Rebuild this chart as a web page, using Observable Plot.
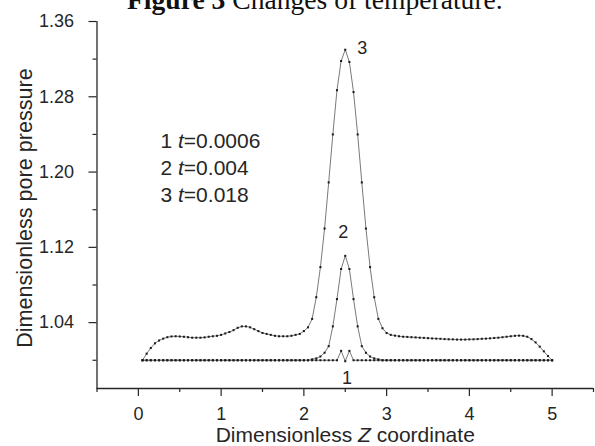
<!DOCTYPE html>
<html>
<head>
<meta charset="utf-8">
<script src="https://cdn.jsdelivr.net/npm/d3@7"></script>
<script src="https://cdn.jsdelivr.net/npm/@observablehq/plot@0.6"></script>
<style>
  html, body { margin: 0; padding: 0; background: #fff; }
  #chart { width: 595px; height: 446px; overflow: hidden; }
</style>
</head>
<body>
<div id="chart"></div>
<script>
// ---- data ----
const zGrid = [
  0.05,0.10,0.15,0.20,0.25,0.30,0.35,0.40,0.45,0.50,
  0.55,0.60,0.65,0.70,0.75,0.80,0.85,0.90,0.95,1.00,
  1.05,1.10,1.15,1.20,1.25,1.30,1.35,1.40,1.45,1.50,
  1.55,1.60,1.65,1.70,1.75,1.80,1.85,1.90,1.95,2.00,
  2.05,2.10,2.15,2.20,2.25,2.30,2.35,2.40,2.45,2.50,
  2.55,2.60,2.65,2.70,2.75,2.80,2.85,2.90,2.95,3.00,
  3.05,3.10,3.15,3.20,3.25,3.30,3.35,3.40,3.45,3.50,
  3.55,3.60,3.65,3.70,3.75,3.80,3.85,3.90,3.95,4.00,
  4.05,4.10,4.15,4.20,4.25,4.30,4.35,4.40,4.45,4.50,
  4.55,4.60,4.65,4.70,4.75,4.80,4.85,4.90,4.95,5.00
];
// curve 1, t = 0.0006
const pressure1 = [
  1.000,1.000,1.000,1.000,1.000,1.000,1.000,1.000,1.000,1.000,
  1.000,1.000,1.000,1.000,1.000,1.000,1.000,1.000,1.000,1.000,
  1.000,1.000,1.000,1.000,1.000,1.000,1.000,1.000,1.000,1.000,
  1.000,1.000,1.000,1.000,1.000,1.000,1.000,1.000,1.000,1.000,
  1.000,1.000,1.000,1.000,1.000,1.000,1.000,1.000,1.010,0.999,
  1.010,1.000,1.000,1.000,1.000,1.000,1.000,1.000,1.000,1.000,
  1.000,1.000,1.000,1.000,1.000,1.000,1.000,1.000,1.000,1.000,
  1.000,1.000,1.000,1.000,1.000,1.000,1.000,1.000,1.000,1.000,
  1.000,1.000,1.000,1.000,1.000,1.000,1.000,1.000,1.000,1.000,
  1.000,1.000,1.000,1.000,1.000,1.000,1.000,1.000,1.000,1.000
];
// curve 2, t = 0.004
const pressure2 = [
  1.000,1.000,1.000,1.000,1.000,1.000,1.000,1.000,1.000,1.000,
  1.000,1.000,1.000,1.000,1.000,1.000,1.000,1.000,1.000,1.000,
  1.000,1.000,1.000,1.000,1.000,1.000,1.000,1.000,1.000,1.000,
  1.000,1.000,1.000,1.000,1.000,1.000,1.000,1.000,1.000,1.000,
  1.000,1.001,1.002,1.004,1.008,1.015,1.036,1.065,1.097,1.111,
  1.097,1.065,1.036,1.015,1.008,1.004,1.002,1.001,1.000,1.000,
  1.000,1.000,1.000,1.000,1.000,1.000,1.000,1.000,1.000,1.000,
  1.000,1.000,1.000,1.000,1.000,1.000,1.000,1.000,1.000,1.000,
  1.000,1.000,1.000,1.000,1.000,1.000,1.000,1.000,1.000,1.000,
  1.000,1.000,1.000,1.000,1.000,1.000,1.000,1.000,1.000,1.000
];
// curve 3, t = 0.018
const pressure3 = [
  1.000,1.007,1.013,1.018,1.021,1.023,1.0245,1.0253,1.0255,1.0253,
  1.025,1.0245,1.024,1.024,1.024,1.0243,1.025,1.0255,1.026,1.027,
  1.0285,1.030,1.032,1.0345,1.036,1.036,1.035,1.033,1.031,1.029,
  1.028,1.027,1.026,1.0255,1.0255,1.0255,1.026,1.027,1.028,1.031,
  1.035,1.044,1.067,1.099,1.140,1.189,1.240,1.287,1.318,1.330,
  1.317,1.285,1.240,1.189,1.140,1.099,1.067,1.044,1.034,1.029,
  1.027,1.0262,1.0255,1.025,1.0248,1.0245,1.0243,1.024,1.0238,1.0235,
  1.0232,1.023,1.0228,1.0225,1.0223,1.0222,1.022,1.022,1.022,1.0222,
  1.0223,1.0225,1.0228,1.023,1.0233,1.0237,1.024,1.0245,1.025,1.0255,
  1.026,1.0262,1.026,1.025,1.0225,1.019,1.0145,1.0095,1.0045,1.000
];
const seriesNames = ["1", "2", "3"];
const seriesTimes = ["0.0006", "0.004", "0.018"];

// curve number annotations (data coordinates)
const curveLabelText = ["1", "2", "3"];
const curveLabelZ = [2.52, 2.475, 2.705];
const curveLabelP = [0.981, 1.136, 1.332];

// axes
const xTicks = [0, 1, 2, 3, 4, 5];
const xTickLabels = ["0", "1", "2", "3", "4", "5"];
const xMinorTicks = [-0.5, 0.5, 1.5, 2.5, 3.5, 4.5, 5.5];
const yTicks = [1.04, 1.12, 1.20, 1.28, 1.36];
const yTickLabels = ["1.04", "1.12", "1.20", "1.28", "1.36"];
const yMinorTicks = [1.00, 1.08, 1.16, 1.24, 1.32];
const xDomain = [-0.5, 5.5];
const yDomain = [0.97, 1.36];
const xTitle = "Dimensionless Z coordinate";
const yTitle = "Dimensionless pore pressure";
const figTitleBold = "Figure 3";
const figTitleRest = " Changes of temperature.";

// ---- build table ----
const allSeries = [pressure1, pressure2, pressure3];
const rows = [];
allSeries.forEach((vals, s) => {
  vals.forEach((v, i) => rows.push({ z: zGrid[i], p: v, series: seriesNames[s] }));
});
const labels = curveLabelText.map((t, i) => ({ t, z: curveLabelZ[i], p: curveLabelP[i] }));
const legendText = seriesNames.map((n, i) => `${n} t=${seriesTimes[i]}`).join("\n");

const font = '"Liberation Sans", Arial, Helvetica, sans-serif';
const ink = "#262626";

const chart = Plot.plot({
  width: 595,
  height: 446,
  marginLeft: 96.5,
  marginRight: 2,
  marginTop: 21,
  marginBottom: 58,
  style: { fontFamily: font, background: "#fff", color: ink, overflow: "visible" },
  x: { domain: xDomain },
  y: { domain: yDomain },
  marks: [
    Plot.ruleX([xDomain[0]], { stroke: ink, strokeWidth: 1.3 }),
    Plot.ruleY([yDomain[0]], { stroke: ink, strokeWidth: 1.3 }),
    Plot.axisX(xTicks, { tickSize: 8, tickPadding: 11, fontSize: 18, tickFormat: (d, i) => xTickLabels[i], label: null, strokeWidth: 1.2 }),
    Plot.axisX(xMinorTicks, { tickSize: 4, tickFormat: () => "", label: null, strokeWidth: 1.2 }),
    Plot.axisY(yTicks, { tickSize: 8, tickPadding: 15, fontSize: 18, tickFormat: (d, i) => yTickLabels[i], label: null, strokeWidth: 1.2 }),
    Plot.axisY(yMinorTicks, { tickSize: 4, tickFormat: () => "", label: null, strokeWidth: 1.2 }),
    Plot.line(rows, { x: "z", y: "p", z: "series", stroke: "#7a7a7a", strokeWidth: 1 }),
    Plot.dot(rows, { x: "z", y: "p", symbol: "square", r: 1.15, fill: "#1a1a1a", stroke: "none" }),
    Plot.text(labels, { x: "z", y: "p", text: "t", fontSize: 18, fill: ink }),
    Plot.text([legendText], { frameAnchor: "top-left", textAnchor: "start", lineAnchor: "top", dx: 63.5, dy: 107, lineHeight: 1.3, fontSize: 21, fill: ink }),
    Plot.text([xTitle], { frameAnchor: "bottom", textAnchor: "middle", lineAnchor: "middle", dy: 47, fontSize: 21, fill: ink }),
    Plot.text([yTitle], { frameAnchor: "left", textAnchor: "middle", lineAnchor: "middle", rotate: -90, dx: -72, dy: 3, fontSize: 21.6, fill: ink })
  ]
});

document.getElementById("chart").appendChild(chart);

// ---- italic parts of the texts ----
const svg = d3.select(chart);
svg.selectAll("text").filter(function () { return this.textContent === xTitle; }).each(function () {
  const parts = xTitle.split("Z");
  const el = d3.select(this);
  el.text(null);
  el.append("tspan").text(parts[0]);
  el.append("tspan").attr("font-style", "italic").text("Z");
  el.append("tspan").text(parts[1]);
});
svg.selectAll("text tspan").filter(function () { return this.textContent.includes("t="); }).each(function () {
  const el = d3.select(this);
  const s = el.text();
  const k = s.indexOf("t=");
  el.text(null);
  el.append("tspan").text(s.slice(0, k));
  el.append("tspan").attr("font-style", "italic").text("t");
  el.append("tspan").text(s.slice(k + 1));
});

// ---- figure title (cropped at the top in the reference) ----
const title = svg.append("text")
  .attr("x", 127).attr("y", 9)
  .attr("text-anchor", "start")
  .attr("font-family", '"Liberation Serif", "Times New Roman", serif')
  .attr("font-size", 27.6)
  .attr("fill", "#111");
title.append("tspan").attr("font-weight", "bold").text(figTitleBold);
title.append("tspan").text(figTitleRest);
</script>
</body>
</html>
